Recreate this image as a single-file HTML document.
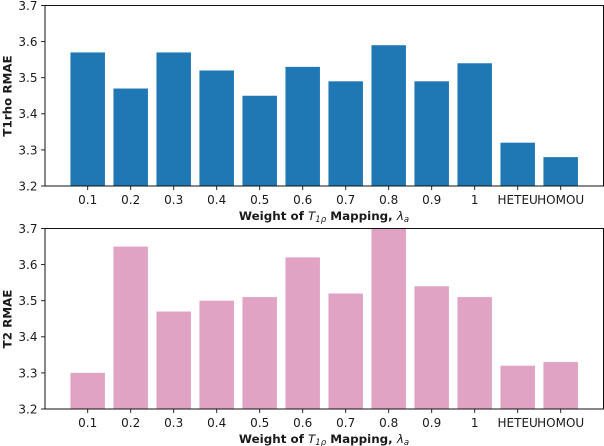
<!DOCTYPE html>
<html>
<head>
<meta charset="utf-8">
<title>RMAE bar charts</title>
<style>
html,body{margin:0;padding:0;background:#fff;}
svg{display:block;}
text{font-family:"DejaVu Sans","Liberation Sans",sans-serif;fill:#1a1a1a;}
.tick{font-size:12px;}
.axis-title{font-size:11.9px;font-weight:bold;}
.it{font-style:italic;font-weight:normal;}
</style>
</head>
<body>
<svg id="chart" xmlns="http://www.w3.org/2000/svg" width="604" height="446" viewBox="0 0 604 446">
  <defs>
    <clipPath id="clip-top"><rect x="45" y="5.5" width="558.5" height="180.5"></rect></clipPath>
    <clipPath id="clip-bottom"><rect x="45" y="228.5" width="558.5" height="180.5"></rect></clipPath>
  </defs>
  <text class="axis-title" transform="translate(11.5,96) rotate(-90)" text-anchor="middle">T1rho RMAE</text>
  <text class="axis-title" x="324" y="220" text-anchor="middle">Weight of <tspan class="it">T</tspan><tspan class="it" font-size="8.5" dy="2">1ρ</tspan><tspan dy="-2"> Mapping, </tspan><tspan class="it">λ</tspan><tspan class="it" font-size="8.5" dy="2">a</tspan></text>
  <text class="axis-title" transform="translate(11.5,319) rotate(-90)" text-anchor="middle">T2 RMAE</text>
  <text class="axis-title" x="324" y="443" text-anchor="middle">Weight of <tspan class="it">T</tspan><tspan class="it" font-size="8.5" dy="2">1ρ</tspan><tspan dy="-2"> Mapping, </tspan><tspan class="it">λ</tspan><tspan class="it" font-size="8.5" dy="2">a</tspan></text>
</svg>
<script>
const categories = ['0.1','0.2','0.3','0.4','0.5','0.6','0.7','0.8','0.9','1','HETEU','HOMOU'];
const t1rhoValues = [3.57,3.47,3.57,3.52,3.45,3.53,3.49,3.59,3.49,3.54,3.32,3.28];
const t2Values = [3.30,3.65,3.47,3.50,3.51,3.62,3.52,3.71,3.54,3.51,3.32,3.33];
const yTicks = [3.2,3.3,3.4,3.5,3.6,3.7];

const svg = document.getElementById('chart');
const NS = 'http://www.w3.org/2000/svg';
const left = 45, right = 603.5, slot = 43, barW = 34.5, firstCenter = 87.7;
const yMin = 3.2, yMax = 3.7;

function xPos(i){ return firstCenter + i * slot; }

function drawPanel(prefix, values, color, top, bottom, clipId){
  const yPos = v => bottom - (v - yMin) / (yMax - yMin) * (bottom - top);
  values.forEach(function(v, i){
    const bar = document.createElementNS(NS, 'rect');
    
    
    bar.setAttribute('x', xPos(i) - barW / 2);
    bar.setAttribute('y', yPos(v));
    bar.setAttribute('width', barW);
    bar.setAttribute('height', bottom - yPos(v));
    bar.setAttribute('fill', color);
    bar.setAttribute('clip-path', 'url(#' + clipId + ')');
    svg.appendChild(bar);
  });
  yTicks.forEach(function(t){
    const y = yPos(t);
    const mark = document.createElementNS(NS, 'line');
    
    
    mark.setAttribute('x1', left - 4);
    mark.setAttribute('x2', left);
    mark.setAttribute('y1', y);
    mark.setAttribute('y2', y);
    mark.setAttribute('stroke', '#111');
    mark.setAttribute('stroke-width', '0.9');
    svg.appendChild(mark);
    const label = document.createElementNS(NS, 'text');
    
    
    label.setAttribute('class', 'tick');
    label.setAttribute('x', left - 7.5);
    label.setAttribute('y', y + 4.4);
    label.setAttribute('text-anchor', 'end');
    label.textContent = t.toFixed(1);
    svg.appendChild(label);
  });
  categories.forEach(function(c, i){
    const x = xPos(i);
    const mark = document.createElementNS(NS, 'line');
    
    
    mark.setAttribute('x1', x);
    mark.setAttribute('x2', x);
    mark.setAttribute('y1', bottom);
    mark.setAttribute('y2', bottom + 4);
    mark.setAttribute('stroke', '#111');
    mark.setAttribute('stroke-width', '0.9');
    svg.appendChild(mark);
    const label = document.createElementNS(NS, 'text');
    
    
    label.setAttribute('class', 'tick');
    label.setAttribute('x', x);
    label.setAttribute('y', bottom + 18);
    label.setAttribute('text-anchor', 'middle');
    label.textContent = c;
    svg.appendChild(label);
  });
  const frame = document.createElementNS(NS, 'rect');
  
  
  frame.setAttribute('x', left);
  frame.setAttribute('y', top);
  frame.setAttribute('width', right - left);
  frame.setAttribute('height', bottom - top);
  frame.setAttribute('fill', 'none');
  frame.setAttribute('stroke', '#111');
  frame.setAttribute('stroke-width', '1');
  svg.appendChild(frame);
}

drawPanel('t1rho', t1rhoValues, '#1f77b4', 5.5, 186, 'clip-top');
drawPanel('t2', t2Values, '#e0a3c3', 228.5, 409, 'clip-bottom');
</script>
</body>
</html>
